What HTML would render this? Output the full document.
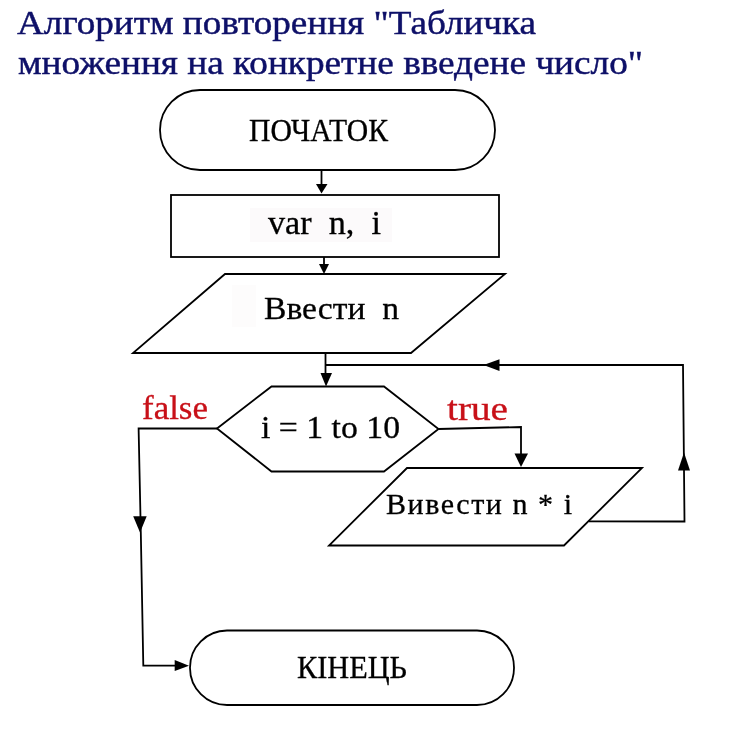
<!DOCTYPE html>
<html><head><meta charset="utf-8">
<style>
html,body{margin:0;padding:0;background:#fff;width:736px;height:756px;overflow:hidden}
svg{display:block;will-change:transform}
text{font-family:"Liberation Serif",serif;white-space:pre}
</style></head>
<body>
<svg xml:space="preserve" width="736" height="756" viewBox="0 0 736 756" xmlns="http://www.w3.org/2000/svg">
<g id="title" fill="#0e1068" stroke="#0e1068" stroke-width="0.45">
<text id="t1" x="17" y="33.5" font-size="34.5" textLength="519" lengthAdjust="spacingAndGlyphs">Алгоритм повторення "Табличка</text>
<text id="t2" x="18" y="74.3" font-size="34.5" textLength="625" lengthAdjust="spacingAndGlyphs">множення на конкретне введене число"</text>
</g>
<rect x="250" y="208" width="142" height="34" fill="#fcfafb"/>
<rect x="232" y="285" width="24" height="42" fill="#fdfcfc"/>
<g fill="none" stroke="#000" stroke-width="1.8" stroke-linejoin="miter">
<rect x="160" y="90" width="335" height="80" rx="40" ry="40"/>
<line x1="321.5" y1="170" x2="321.5" y2="185"/>
<rect x="171" y="195" width="328" height="62"/>
<line x1="324" y1="257" x2="324" y2="265"/>
<polygon points="225,274 505,274 411,353 133,353"/>
<polyline points="325.5,353 325.5,374"/>
<polyline points="325.5,365 683,365 684.5,521.5 589,521.3"/>
<polygon points="217,428.5 271.5,386.5 384,386.5 438.5,429 384,471.5 271.5,471.5"/>
<polyline points="438.5,429 521,427 521,454"/>
<polygon points="407,468 642,468 564,545.5 329,545.5"/>
<polyline points="217,428.5 138.6,428.5 140.8,532 143.3,665.7 176,665.7"/>
<rect x="190" y="630.5" width="324" height="74.5" rx="37" ry="37"/>
</g>
<g fill="#000">
<polygon points="316,184 327.5,184 321.5,193.5"/>
<polygon points="319,264 329,264 324,274"/>
<polygon points="320.5,373 332,373 326,386.5"/>
<polygon points="483.5,365 499.5,359.3 499.5,371"/>
<polygon points="684,452.5 678,470.5 690,470.5"/>
<polygon points="514.5,453.5 528,453.5 521,467"/>
<polygon points="133.2,516.3 146.7,516.3 140,532.6"/>
<polygon points="174.7,660 174.7,671 189,665.7"/>
</g>
<g fill="#000" stroke="#000" stroke-width="0.3">
<text id="s1" x="249" y="141" font-size="32" textLength="139" lengthAdjust="spacingAndGlyphs">ПОЧАТОК</text>
<text id="s2" x="268" y="233.5" font-size="34" textLength="113" lengthAdjust="spacingAndGlyphs">var  n,  i</text>
<text id="s3" x="264" y="318.7" font-size="32" textLength="135" lengthAdjust="spacingAndGlyphs">Ввести  n</text>
<text id="s4" x="261" y="438" font-size="32" textLength="139" lengthAdjust="spacingAndGlyphs">i = 1 to 10</text>
<text id="s5" x="386" y="513.8" font-size="30" textLength="186" lengthAdjust="spacing">Вивести n * i</text>
<text id="s6" x="297" y="678.3" font-size="31.5" textLength="110" lengthAdjust="spacingAndGlyphs">КІНЕЦЬ</text>
</g>
<g fill="#c81018" stroke="#c81018" stroke-width="0.3">
<text id="r1" x="142" y="418.6" font-size="33" textLength="66" lengthAdjust="spacingAndGlyphs">false</text>
<text id="r2" x="447" y="420.4" font-size="33" textLength="61" lengthAdjust="spacingAndGlyphs">true</text>
</g>
</svg>
</body></html>
